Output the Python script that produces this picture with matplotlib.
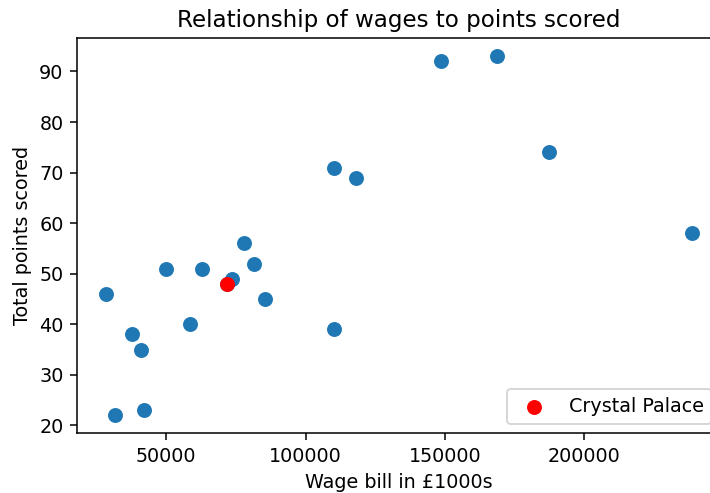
import matplotlib
matplotlib.use("Agg")
import matplotlib.pyplot as plt

# wage bill (in £1000s) and total points for each club
wages = [28500, 31700, 37700, 41000, 42000, 50000, 58600, 62800, 73600, 71900,
         78100, 81600, 85300, 110200, 110400, 118200, 148800, 168600, 187400, 238600]
points = [46, 22, 38, 35, 23, 51, 40, 51, 49, 48,
          56, 52, 45, 39, 71, 69, 92, 93, 74, 58]

# Crystal Palace highlighted
cp_wage = 71900
cp_points = 48

DPI = 138
fig = plt.figure(figsize=(710 / DPI, 493 / DPI), dpi=DPI)
ax = fig.add_axes([77 / 710, 59.7 / 493, 644 / 710, 395 / 493])

ax.scatter(wages, points, s=46)
ax.scatter(cp_wage, cp_points, s=46, color="red", label="Crystal Palace")

ax.set_title("Relationship of wages to points scored")
ax.set_xlabel("Wage bill in £1000s")
ax.set_ylabel("Total points scored")
ax.legend(loc="lower right")

fig.savefig("out.png", dpi=DPI)
